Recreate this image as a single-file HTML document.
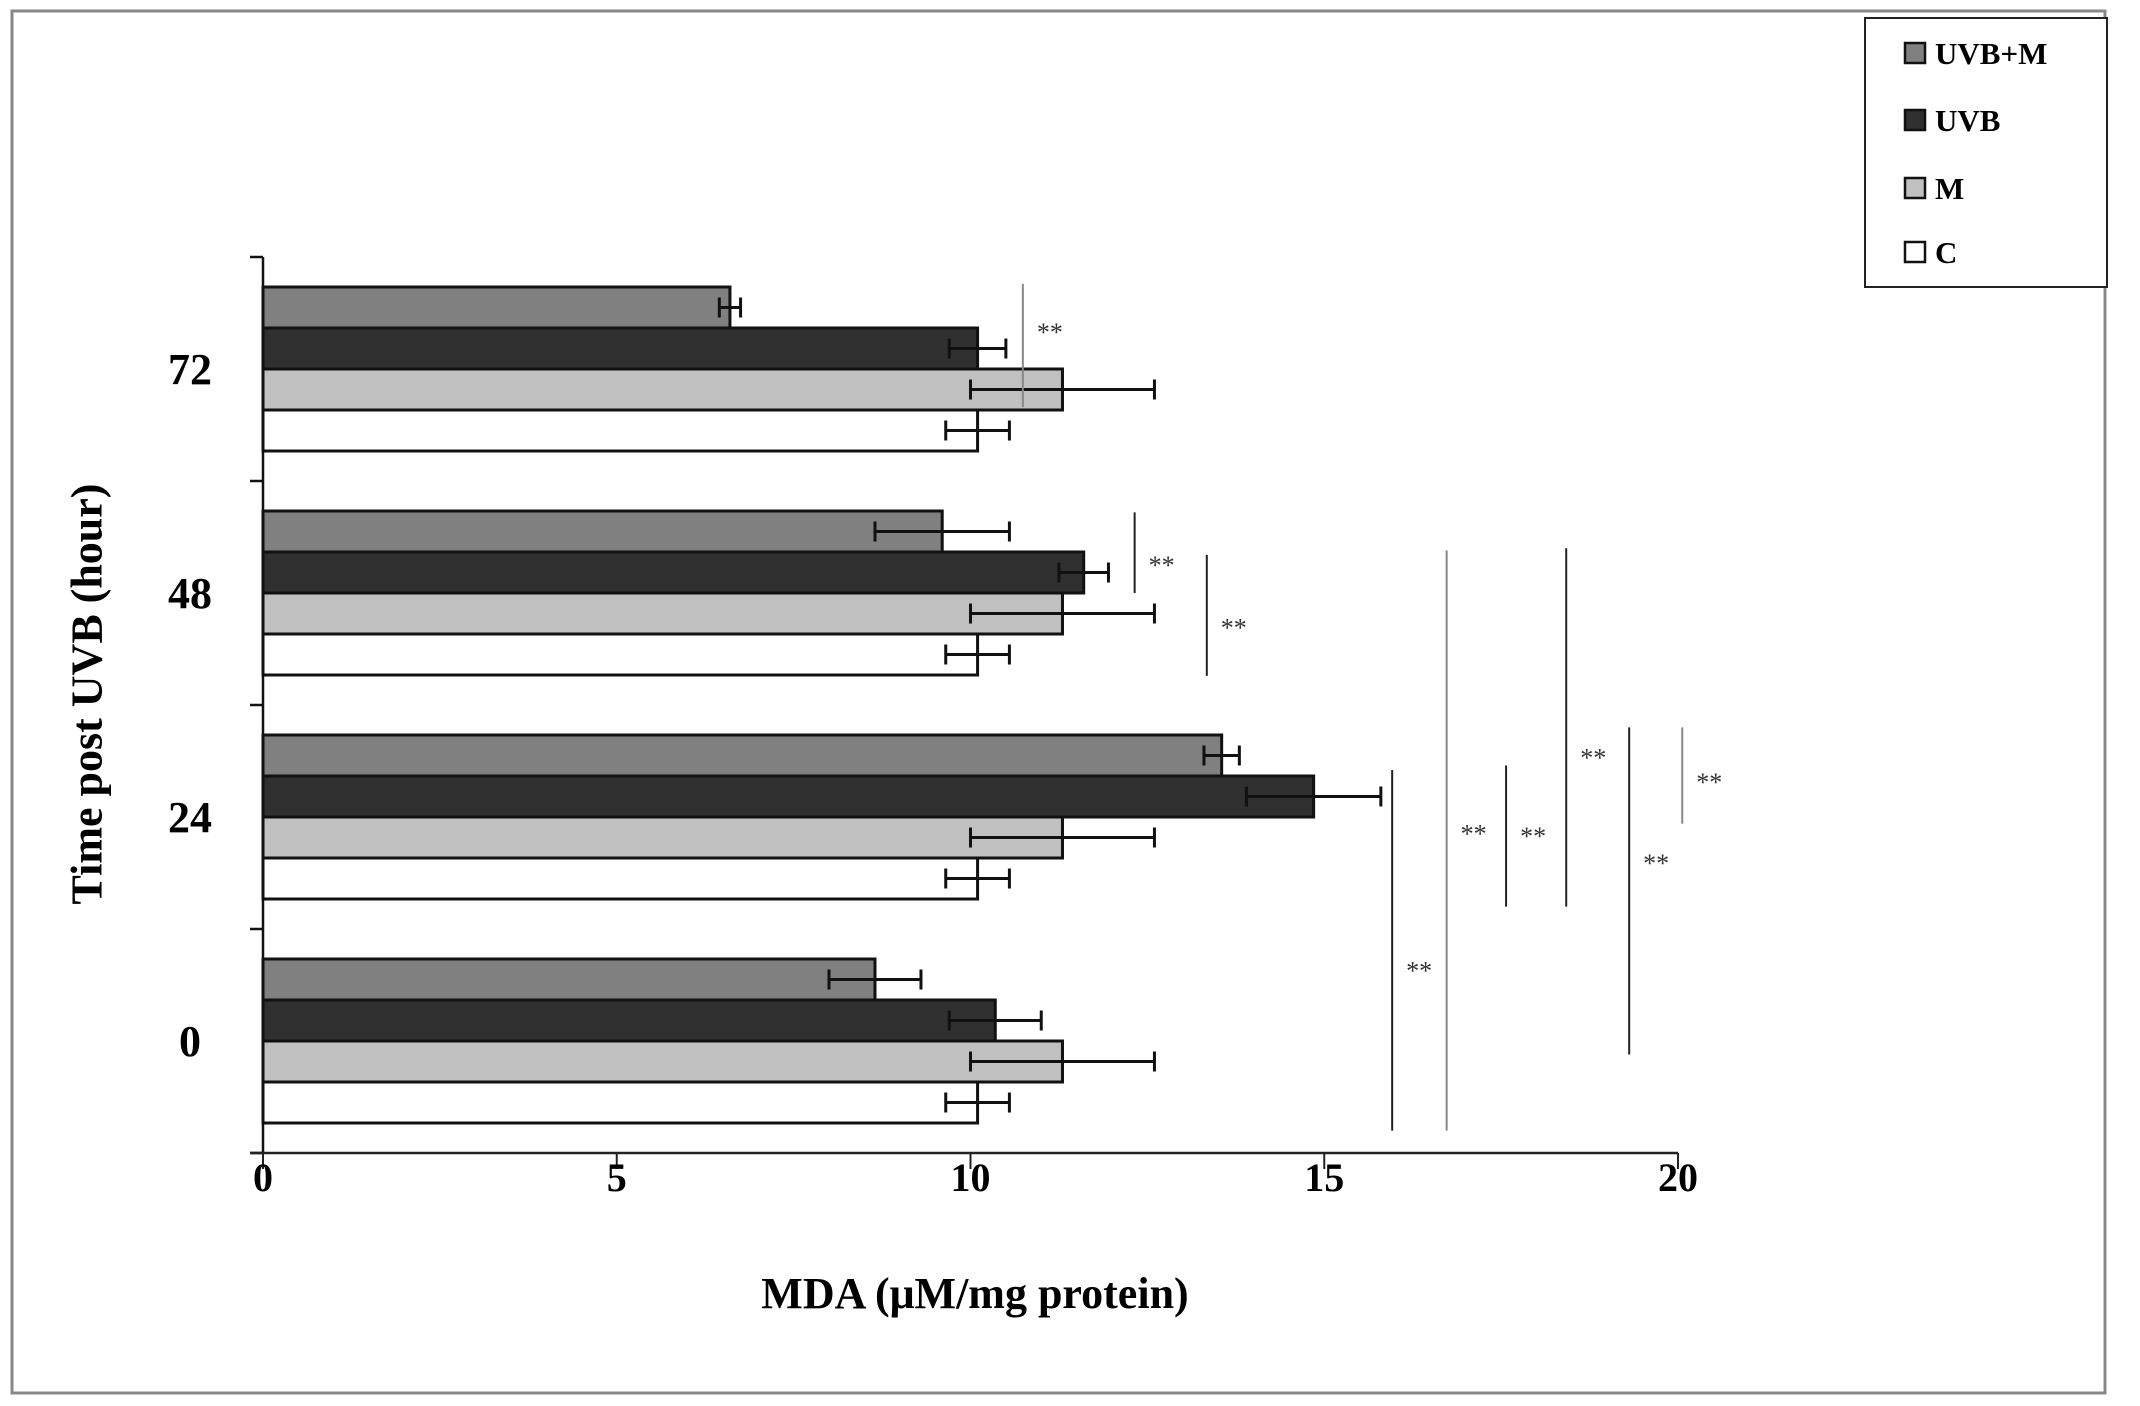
<!DOCTYPE html>
<html><head><meta charset="utf-8"><style>
html,body{margin:0;padding:0;background:#fff;}
svg{display:block;font-family:"Liberation Serif",serif;}
</style></head><body>
<svg id="chart" width="2140" height="1406" viewBox="0 0 2140 1406">
<rect x="12" y="11" width="2093" height="1382" fill="#fff" stroke="#888" stroke-width="3"/>
<g id="plot"></g>
<g id="legend">
<rect x="1865" y="18" width="242" height="269" fill="#fff" stroke="#222" stroke-width="2"/>
</g>
<text x="87" y="694" transform="rotate(-90 87 694)" text-anchor="middle" dominant-baseline="central" font-size="44" font-weight="bold">Time post UVB  (hour)</text>
<text x="975" y="1308" text-anchor="middle" font-size="44" font-weight="bold">MDA (μM/mg protein)</text>
</svg>
<script>
const categories = ["72", "48", "24", "0"];
const seriesNames = ["UVB+M", "UVB", "M", "C"];
const valsUVBM = [6.6, 9.6, 13.55, 8.65];
const valsUVB = [10.1, 11.6, 14.85, 10.35];
const valsM = [11.3, 11.3, 11.3, 11.3];
const valsC = [10.1, 10.1, 10.1, 10.1];
const errUVBM = [0.15, 0.95, 0.25, 0.65];
const errUVB = [0.4, 0.35, 0.95, 0.65];
const errM = [1.3, 1.3, 1.3, 1.3];
const errC = [0.45, 0.45, 0.45, 0.45];
const xTicks = [0, 5, 10, 15, 20];
// significance brackets: x value, y span in category-band units (0 = top of plot), label
const sigX = [10.74, 12.32, 13.34, 15.96, 16.73, 17.57, 18.42, 19.31, 20.06];
const sigY0 = [0.12, 1.14, 1.33, 2.29, 1.31, 2.27, 1.30, 2.10, 2.10];
const sigY1 = [0.67, 1.50, 1.87, 3.90, 3.90, 2.90, 2.90, 3.56, 2.53];
const sigLabelY = [0.33, 1.37, 1.65, 3.18, 2.57, 2.58, 2.23, 2.70, 2.34];
const sigGray = [1, 0, 0, 0, 1, 0, 0, 0, 1];

const NS = "http://www.w3.org/2000/svg";
const plot = document.getElementById("plot");
const legend = document.getElementById("legend");
const X0 = 263, X1 = 1678, YT = 257, YB = 1153;
const band = (YB - YT) / categories.length;
const xs = v => X0 + (v - xTicks[0]) / (xTicks[xTicks.length-1] - xTicks[0]) * (X1 - X0);
const yb = u => YT + u * band;
const fills = ["#808080", "#303030", "#c0c0c0", "#ffffff"];
const vals = [valsUVBM, valsUVB, valsM, valsC];
const errs = [errUVBM, errUVB, errM, errC];
function mk(tag, attrs, parent){ const e=document.createElementNS(NS,tag); for(const k in attrs) e.setAttribute(k,attrs[k]); parent.appendChild(e); return e; }

const barH = 41, padTop = 30;
categories.forEach((c, ci) => {
  const top = yb(ci) + padTop;
  vals.forEach((arr, si) => {
    const y = top + si * barH;
    const r = mk("rect", {x: xs(0), y: y, width: xs(arr[ci]) - xs(0), height: barH, fill: fills[si], stroke: "#111", "stroke-width": 3}, plot);
    
    
    const lo = xs(arr[ci] - errs[si][ci]), hi = xs(arr[ci] + errs[si][ci]), cy = y + barH/2;
    const g = mk("g", {stroke: "#111", "stroke-width": 3}, plot);
    
    
    mk("line", {x1: lo, x2: hi, y1: cy, y2: cy}, g);
    mk("line", {x1: lo, x2: lo, y1: cy-10, y2: cy+10}, g);
    mk("line", {x1: hi, x2: hi, y1: cy-10, y2: cy+10}, g);
  });
  const t = mk("text", {x: 190, y: yb(ci) + band/2 + 15, "text-anchor": "middle", "font-size": 44, "font-weight": "bold"}, plot);
  t.textContent = c;
  
  
});
const ya = mk("line", {x1: X0, x2: X0, y1: YT, y2: YB, stroke: "#111", "stroke-width": 2.5}, plot);


for (let i = 0; i <= categories.length; i++) {
  const tk = mk("line", {x1: X0 - 13, x2: X0, y1: yb(i), y2: yb(i), stroke: "#111", "stroke-width": 2.5}, plot);
  
  
}
const xa = mk("line", {x1: X0 - 13, x2: X1, y1: YB, y2: YB, stroke: "#222", "stroke-width": 2.5}, plot);


xTicks.forEach(v => {
  const tk = mk("line", {x1: xs(v), x2: xs(v), y1: YB, y2: YB + 16, stroke: "#222", "stroke-width": 2}, plot);
  
  
  const t = mk("text", {x: xs(v), y: YB + 38, "text-anchor": "middle", "font-size": 40, "font-weight": "bold"}, plot);
  t.textContent = v;
  
  
});
sigX.forEach((v, i) => {
  const l = mk("line", {x1: xs(v), x2: xs(v), y1: yb(sigY0[i]), y2: yb(sigY1[i]), stroke: sigGray[i] ? "#888" : "#222", "stroke-width": 2}, plot);
  
  
  const t = mk("text", {x: xs(v) + 14, y: yb(sigLabelY[i]) + 10, "font-size": 26, fill: "#333"}, plot);
  t.textContent = "**";
  
  
});
const legY = [53, 120, 188, 252];
seriesNames.forEach((n, i) => {
  const s = mk("rect", {x: 1905, y: legY[i] - 10, width: 20, height: 20, fill: fills[i], stroke: "#111", "stroke-width": 2.5}, legend);
  
  
  const t = mk("text", {x: 1935, y: legY[i] + 11, "font-size": 31, "font-weight": "bold"}, legend);
  t.textContent = n;
  
  
});
</script>
</body></html>
